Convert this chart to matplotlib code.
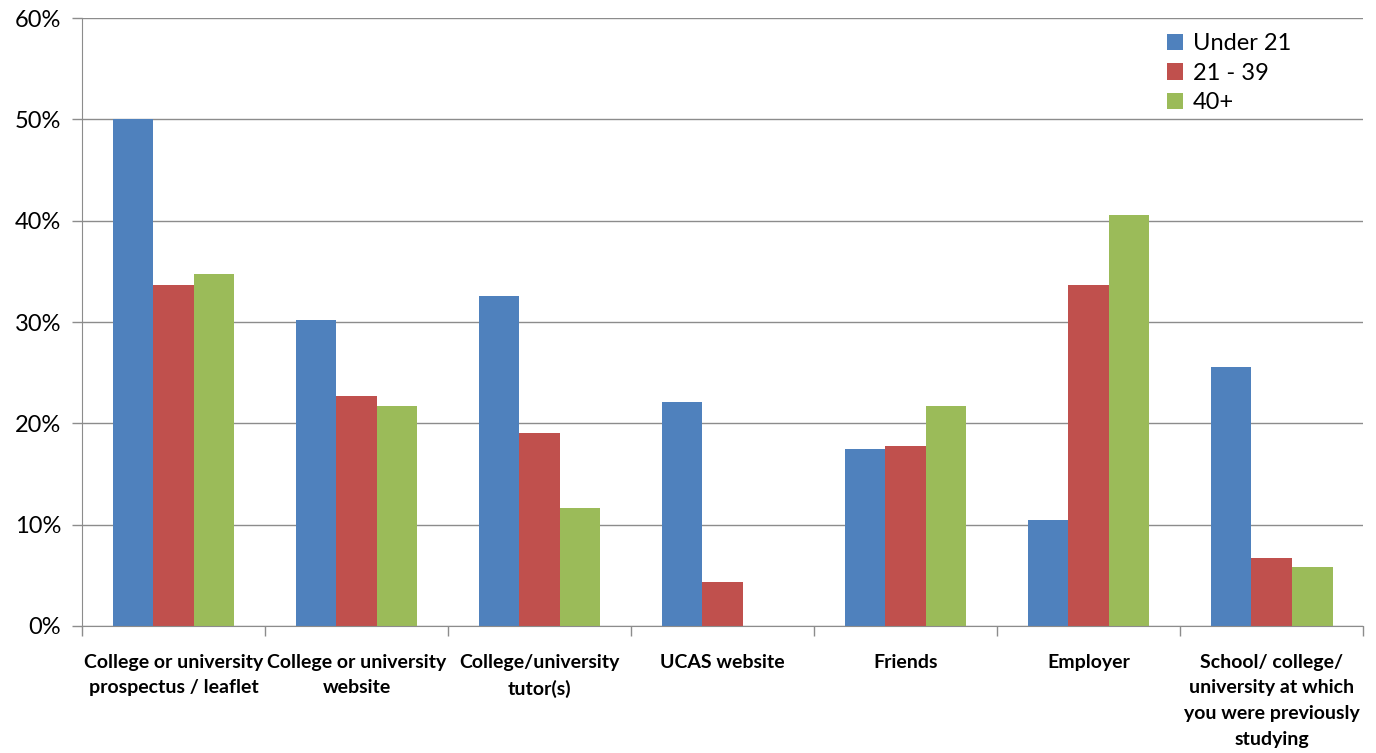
import numpy as np
import matplotlib
matplotlib.use("Agg")
import matplotlib.pyplot as plt
from matplotlib.ticker import FuncFormatter, FixedLocator

categories = [
    "College or university\nprospectus / leaflet",
    "College or university\nwebsite",
    "College/university\ntutor(s)",
    "UCAS website",
    "Friends",
    "Employer",
    "School/ college/\nuniversity at which\nyou were previously\nstudying",
]
series_names = ["Under 21", "21 - 39", "40+"]
under_21 = [50.0, 30.2, 32.6, 22.1, 17.5, 10.5, 25.6]
age_21_39 = [33.7, 22.7, 19.0, 4.3, 17.8, 33.7, 6.7]
age_40_plus = [34.7, 21.7, 11.6, 0.0, 21.7, 40.6, 5.8]

COLORS = ["#4F81BD", "#C0504D", "#9BBB59"]

plt.rcParams["font.family"] = ["Lato", "DejaVu Sans"]

fig = plt.figure(figsize=(13.76, 7.53), dpi=100)
ax = fig.add_axes([0.0596, 0.1687, 0.9310, 0.8073])

x = np.arange(len(categories))
w = 0.222
for i, (vals, name, c) in enumerate(zip([under_21, age_21_39, age_40_plus], series_names, COLORS)):
    ax.bar(x + (i - 1) * w, vals, width=w, color=c, label=name, zorder=3)

ax.set_xlim(-0.5, len(categories) - 0.5)
ax.set_ylim(0, 60)
ax.set_yticks(range(0, 61, 10))
ax.yaxis.set_major_formatter(FuncFormatter(lambda v, _: f"{v:.0f}%"))
ax.grid(axis="y", color="#8c8c8c", lw=1, zorder=0)

# category labels centred, tick marks on the boundaries between groups
ax.set_xticks(x)
ax.set_xticklabels(categories, fontsize=14, fontweight="bold", linespacing=1.62, va="top")
ax.tick_params(axis="x", which="major", length=0, pad=20)
ax.xaxis.set_minor_locator(FixedLocator(np.arange(-0.5, len(categories), 1.0)))
ax.tick_params(axis="x", which="minor", length=7, color="#8c8c8c", width=1)
ax.tick_params(axis="y", labelsize=17, length=7, color="#8c8c8c", width=1, pad=8)

for s in ["top", "right"]:
    ax.spines[s].set_visible(False)
for s in ["left", "bottom"]:
    ax.spines[s].set_color("#8c8c8c")
    ax.spines[s].set_zorder(4)

ax.legend(loc="upper left", bbox_to_anchor=(0.83, 1.01), frameon=False, fontsize=17,
          handlelength=0.7, handleheight=0.7, handletextpad=0.4, labelspacing=0.36)

fig.savefig("out.png", dpi=100)
